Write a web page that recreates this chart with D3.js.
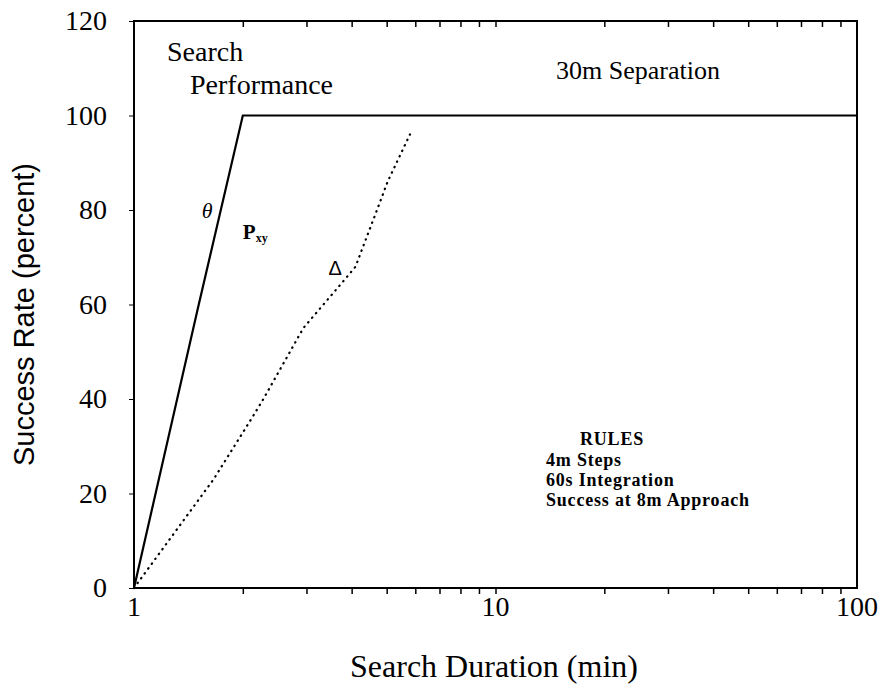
<!DOCTYPE html>
<html><head><meta charset="utf-8">
<script src="https://cdn.jsdelivr.net/npm/d3@7"></script>
<style>body{margin:0;background:#fff}svg{display:block}</style>
</head><body>
<svg id="c" width="885" height="692"></svg>
<script>
// ---- data ----
const xTickValues = [1, 10, 100];
const xTickLabels = ["1", "10", "100"];
const xMinorTicks = [2,3,4,5,6,7,8,9,20,30,40,50,60,70,80,90];
const yTickValues = [0, 20, 40, 60, 80, 100, 120];
const yTickLabels = ["0", "20", "40", "60", "80", "100", "120"];
// solid curve (theta)
const solidX = [1, 1.5, 2, 100];
const solidY = [0, 59, 100, 100];
// dotted curve (delta)
const dottedX = [1, 1.66, 2.12, 2.28, 2.94, 3.8, 4.1, 4.29, 4.81, 5.03, 5.8];
const dottedY = [0, 23, 36, 40, 55, 65, 68, 72, 82, 86, 96];
// curve labels
const curveLabelText = ["θ", "Δ"];
const curveLabelX = [1.54, 3.45];
const curveLabelY = [80, 68];
const pxyLabelX = 2.0, pxyLabelY = 75.5;
const rulesLines = ["4m Steps", "60s Integration", "Success at 8m Approach"];

// ---- layout ----
const L = 134, R = 857, T = 21, B = 588;
const svg = d3.select("#c");
const x = d3.scaleLog().domain([1, 100]).range([L, R]);
const y = d3.scaleLinear().domain([0, 120]).range([B, T]);
const serif = "'Liberation Serif', 'Times New Roman', serif";
const sans = "'Liberation Sans', Arial, sans-serif";

// frame
svg.append("rect").attr("x", L).attr("y", T).attr("width", R - L).attr("height", B - T)
  .attr("fill", "none").attr("stroke", "#000").attr("stroke-width", 2);

// bottom axis (ticks outward)
const xb = svg.append("g").attr("transform", `translate(0,${B})`)
  .call(d3.axisBottom(x).tickValues(xMinorTicks.concat([10])).tickSize(6).tickFormat(""));
xb.select(".domain").remove();
xb.selectAll("line").attr("stroke", "#000").attr("stroke-width", 1.5);
// top axis (ticks inward)
const xt = svg.append("g").attr("transform", `translate(0,${T})`)
  .call(d3.axisBottom(x).tickValues(xMinorTicks.concat([10])).tickSize(6).tickFormat(""));
xt.select(".domain").remove();
xt.selectAll("line").attr("stroke", "#000").attr("stroke-width", 1.5);

// x labels
svg.append("g").selectAll("text").data(xTickValues).join("text")
  .attr("x", d => x(d)).attr("y", B + 28)
  .attr("text-anchor", "middle").attr("font-family", serif).attr("font-size", 28)
  .text((d, i) => xTickLabels[i]);

// left axis
const yl = svg.append("g").attr("transform", `translate(${L},0)`)
  .call(d3.axisLeft(y).tickValues(yTickValues).tickSize(5).tickPadding(22)
    .tickFormat((d, i) => yTickLabels[i]));
yl.select(".domain").remove();
yl.selectAll("line").attr("stroke", "#000").attr("stroke-width", 1);
yl.selectAll("text").attr("font-family", serif).attr("font-size", 28).attr("fill", "#000");

// axis titles
svg.append("text").attr("x", 494).attr("y", 677)
  .attr("text-anchor", "middle").attr("font-family", serif).attr("font-size", 32)
  .text("Search Duration (min)");
svg.append("text").attr("transform", `translate(34,${(T + B) / 2 + 10}) rotate(-90)`)
  .attr("text-anchor", "middle").attr("font-family", sans).attr("font-size", 29)
  .text("Success Rate (percent)");

// lines
const line = d3.line().x(d => x(d[0])).y(d => y(d[1]));
svg.append("path").datum(solidX.map((v, i) => [v, solidY[i]]))
  .attr("d", line).attr("fill", "none").attr("stroke", "#000").attr("stroke-width", 2.2);
svg.append("path").datum(dottedX.map((v, i) => [v, dottedY[i]]))
  .attr("d", line).attr("fill", "none").attr("stroke", "#000").attr("stroke-width", 2.2)
  .attr("stroke-linecap", "round").attr("stroke-dasharray", "0.5,5.5");

// curve labels
svg.append("text").attr("x", x(curveLabelX[0])).attr("y", y(curveLabelY[0]) + 8)
  .attr("font-family", serif).attr("font-style", "italic").attr("font-size", 22)
  .text(curveLabelText[0]);
svg.append("text").attr("x", x(curveLabelX[1])).attr("y", y(curveLabelY[1]) + 8)
  .attr("font-family", sans).attr("font-size", 20)
  .text(curveLabelText[1]);
const pxy = svg.append("text").attr("x", x(pxyLabelX)).attr("y", y(pxyLabelY) + 8)
  .attr("font-family", serif).attr("font-weight", "bold").attr("font-size", 21);
pxy.append("tspan").text("P");
pxy.append("tspan").attr("font-size", 12).attr("dy", 3).text("xy");

// annotations
svg.append("text").attr("x", 167).attr("y", 61).attr("font-family", serif).attr("font-size", 28)
  .text("Search");
svg.append("text").attr("x", 190).attr("y", 94).attr("font-family", serif).attr("font-size", 28)
  .text("Performance");
svg.append("text").attr("x", 556).attr("y", 79).attr("font-family", serif).attr("font-size", 26)
  .text("30m Separation");
svg.append("text").attr("x", 580).attr("y", 445).attr("font-family", serif).attr("font-weight", "bold")
  .attr("font-size", 18).attr("letter-spacing", 0.8).text("RULES");
svg.append("g").selectAll("text").data(rulesLines).join("text")
  .attr("x", 546).attr("y", (d, i) => 466 + i * 20)
  .attr("font-family", serif).attr("font-weight", "bold").attr("font-size", 18)
  .attr("letter-spacing", 0.8)
  .text(d => d);
</script>
</body></html>
